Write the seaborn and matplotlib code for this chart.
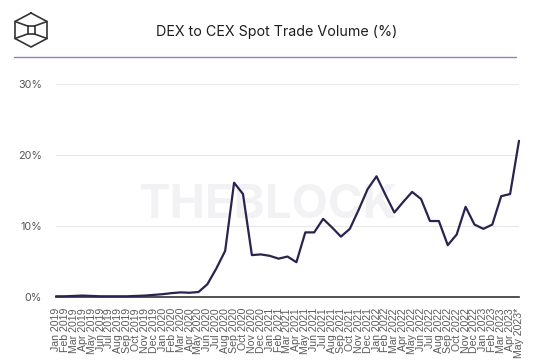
import numpy as np
import pandas as pd
import seaborn as sns
import matplotlib.pyplot as plt
from matplotlib.lines import Line2D
from matplotlib.ticker import FuncFormatter

# --- data (monthly DEX / CEX spot volume share, %) ---
months = pd.date_range("2019-01-01", "2023-05-01", freq="MS").strftime("%b %Y").tolist()
months[-1] = months[-1] + "*"
dex_share = [0.1, 0.1, 0.15, 0.2, 0.15, 0.1, 0.1, 0.1, 0.1, 0.15, 0.2,
             0.3, 0.4, 0.55, 0.65, 0.6, 0.7, 1.8, 4.0, 6.5, 16.1, 14.5,
             5.9, 6.0, 5.8, 5.4, 5.7, 4.9, 9.1, 9.1, 11.0, 9.8, 8.5,
             9.6, 12.3, 15.2, 17.0, 14.4, 11.9, 13.4, 14.8, 13.8, 10.7,
             10.7, 7.3, 8.8, 12.7, 10.2, 9.6, 10.2, 14.2, 14.5, 22.0]
y_ticks = [0, 10, 20, 30]

df = pd.DataFrame({"pos": np.arange(len(months)), "share": dex_share})

W, H = 536, 363
sns.set_style("white")
plt.rcParams["font.family"] = ["Inter", "DejaVu Sans"]

fig = plt.figure(figsize=(W / 100, H / 100), dpi=100)
ax = fig.add_axes([56 / W, 66 / H, 463 / W, 213 / H])

sns.lineplot(data=df, x="pos", y="share", ax=ax, color="#28244f",
             linewidth=1.6, clip_on=False, zorder=3)

ax.set_xlim(0, len(months) - 1)
ax.set_ylim(0, 30)
ax.set_yticks(y_ticks)
ax.yaxis.set_major_formatter(FuncFormatter(lambda v, _: f"{v:.0f}%"))
ax.set_xticks(df["pos"])
ax.set_xticklabels(months, rotation=90, family=["Liberation Sans"],
                   fontsize=7.6, color="#5a5a5a")
ax.tick_params(axis="x", length=0, pad=8)
ax.tick_params(axis="y", length=0, pad=10, labelsize=7.8, labelcolor="#555555")
ax.set_xlabel("")
ax.set_ylabel("")
ax.grid(axis="y", color="#e8e8e8", linewidth=0.8)
ax.grid(axis="x", visible=False)
for s in ["top", "right", "left"]:
    ax.spines[s].set_visible(False)
ax.spines["bottom"].set_color("#333333")
ax.spines["bottom"].set_linewidth(1.2)

# watermark
ax.text(268 / W, 1 - 206 / H, "THEBLOCK", transform=fig.transFigure,
        ha="center", va="center", fontsize=34, fontweight="bold",
        color="#f2f2f4", zorder=0.5)

# title + divider
fig.text(277 / W, 1 - 32 / H, "DEX to CEX Spot Trade Volume (%)",
         ha="center", va="center", fontsize=10.3, color="#1e1e1e")
fig.add_artist(Line2D([14 / W, 516 / W], [1 - 57 / H, 1 - 57 / H],
                      color="#9a7cc6", linewidth=1))

# cube logo
def px(x, y):
    return x / W, 1 - y / H

hexagon = [(31, 13), (47, 21.5), (47, 38.5), (31, 47), (15, 38.5), (15, 21.5), (31, 13)]
square = [(27.5, 26), (34.5, 26), (34.5, 34), (27.5, 34), (27.5, 26)]
spokes = [[(15, 21.5), (27.5, 26)], [(47, 21.5), (34.5, 26)],
          [(15, 38.5), (27.5, 34)], [(47, 38.5), (34.5, 34)]]
for shape in [hexagon, square] + spokes:
    xs, ys = zip(*[px(a, b) for a, b in shape])
    fig.add_artist(Line2D(xs, ys, color="#333333", linewidth=1.2))

fig.savefig("out.png", dpi=100)
